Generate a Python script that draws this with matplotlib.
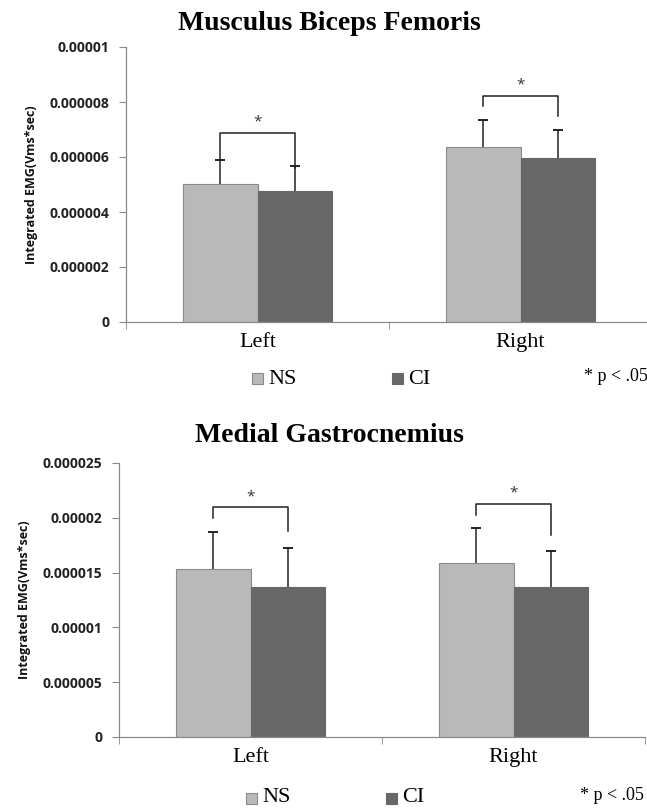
import matplotlib
matplotlib.use("Agg")
import matplotlib.pyplot as plt
from matplotlib.patches import Rectangle
import numpy as np

W, H = 647, 809
categories = ["Left", "Right"]
series = ["NS", "CI"]

bf_ns = [5.03e-6, 6.36e-6]
bf_ci = [4.77e-6, 5.97e-6]
bf_ns_err = [0.86e-6, 1.0e-6]
bf_ci_err = [0.90e-6, 1.0e-6]
bf_yticks = [0, 0.000002, 0.000004, 0.000006, 0.000008, 0.00001]
bf_yticklabels = ["0", "0.000002", "0.000004", "0.000006", "0.000008", "0.00001"]
bf_bracket_top = [6.89e-6, 8.23e-6]
bf_bracket_legs = [(5.9e-6, 5.6e-6), (7.85e-6, 7.5e-6)]

mg_ns = [1.533e-5, 1.585e-5]
mg_ci = [1.371e-5, 1.371e-5]
mg_ns_err = [0.335e-5, 0.325e-5]
mg_ci_err = [0.353e-5, 0.323e-5]
mg_yticks = [0, 0.000005, 0.00001, 0.000015, 0.00002, 0.000025]
mg_yticklabels = ["0", "0.000005", "0.00001", "0.000015", "0.00002", "0.000025"]
mg_bracket_top = [2.096e-5, 2.128e-5]
mg_bracket_legs = [(1.995e-5, 1.882e-5), (2.03e-5, 1.843e-5)]

NS_COLOR = "#b9b9b9"
CI_COLOR = "#676767"
EDGE = "#8a8a8a"
SERIF = ["Liberation Serif", "DejaVu Serif"]
SANS = ["Open Sans", "DejaVu Sans"]

fig = plt.figure(figsize=(W / 100, H / 100), dpi=100)


def px_axes(left, right, top, bottom):
    return fig.add_axes([left / W, 1 - bottom / H, (right - left) / W, (bottom - top) / H])


def draw(ax, ns, ci, ns_err, ci_err, yticks, yticklabels, btop, blegs, title, title_y):
    x = np.arange(len(categories))
    bw = 0.285
    ax.bar(x - bw / 2, ns, bw, color=NS_COLOR, edgecolor=EDGE, linewidth=0.8, zorder=2)
    ax.bar(x + bw / 2, ci, bw, color=CI_COLOR, edgecolor=CI_COLOR, linewidth=0.8, zorder=2)
    for xs, vals, errs in ((x - bw / 2, ns, ns_err), (x + bw / 2, ci, ci_err)):
        _, caps, _ = ax.errorbar(xs, vals, yerr=[np.zeros(len(errs)), errs], fmt="none",
                                 ecolor="#222222", elinewidth=1.1, capsize=3.5,
                                 capthick=1.4, zorder=3)
        caps[0].set_visible(False)
    for i in range(len(categories)):
        x0, x1 = x[i] - bw / 2, x[i] + bw / 2
        ax.plot([x0, x0, x1, x1], [blegs[i][0], btop[i], btop[i], blegs[i][1]],
                color="#222222", lw=1.1, zorder=3, clip_on=False)
        ax.text(x[i], btop[i] + (yticks[-1] * 0.012), "*", ha="center", va="bottom",
                fontsize=11, family=SANS, color="#333333")
    ax.set_xlim(-0.5, len(categories) - 0.5)
    ax.set_ylim(yticks[0], yticks[-1])
    ax.set_yticks(yticks)
    ax.set_yticklabels(yticklabels, fontsize=10, fontweight="bold", family=SANS, color="#222222")
    ax.set_xticks(x)
    ax.set_xticklabels(categories, fontsize=16, family=SERIF)
    ax.tick_params(axis="x", which="major", length=0, pad=8)
    ax.set_xticks(np.arange(-0.5, len(categories), 1.0), minor=True)
    ax.tick_params(axis="x", which="minor", length=5, color=EDGE, direction="out")
    ax.tick_params(axis="y", length=5, color=EDGE, width=0.8, pad=7)
    for s in ("top", "right"):
        ax.spines[s].set_visible(False)
    for s in ("left", "bottom"):
        ax.spines[s].set_color(EDGE)
        ax.spines[s].set_linewidth(0.9)
    ax.set_ylabel("Integrated EMG(Vms*sec)", fontsize=9, fontweight="bold", family=SANS,
                  color="#111111")
    fig.text(329 / W, 1 - title_y / H, title, ha="center", va="center", fontsize=20,
             fontweight="bold", family=SERIF)


ax1 = px_axes(126, 652, 47, 322)
draw(ax1, bf_ns, bf_ci, bf_ns_err, bf_ci_err, bf_yticks, bf_yticklabels,
     bf_bracket_top, bf_bracket_legs, "Musculus Biceps Femoris", 24)
ax1.yaxis.set_label_coords(-0.168, 0.5)

ax2 = px_axes(119, 645, 463, 737)
draw(ax2, mg_ns, mg_ci, mg_ns_err, mg_ci_err, mg_yticks, mg_yticklabels,
     mg_bracket_top, mg_bracket_legs, "Medial Gastrocnemius", 435)
ax2.yaxis.set_label_coords(-0.168, 0.5)


def legend(y, x_ns, x_ci, x_p):
    for xx, col, lab in ((x_ns, NS_COLOR, series[0]), (x_ci, CI_COLOR, series[1])):
        fig.patches.append(Rectangle((xx / W, 1 - (y + 5.5) / H), 11 / W, 11 / H,
                                     transform=fig.transFigure, facecolor=col,
                                     edgecolor=EDGE if col == NS_COLOR else col, lw=0.8))
        fig.text((xx + 16) / W, 1 - y / H, lab, ha="left", va="center", fontsize=16,
                 family=SERIF)
    fig.text(x_p / W, 1 - (y - 3) / H, "* p < .05", ha="left", va="center", fontsize=13,
             family=SERIF)


legend(379, 252, 392, 584)
legend(798, 246, 386, 580)

fig.savefig("out.png", dpi=100)
